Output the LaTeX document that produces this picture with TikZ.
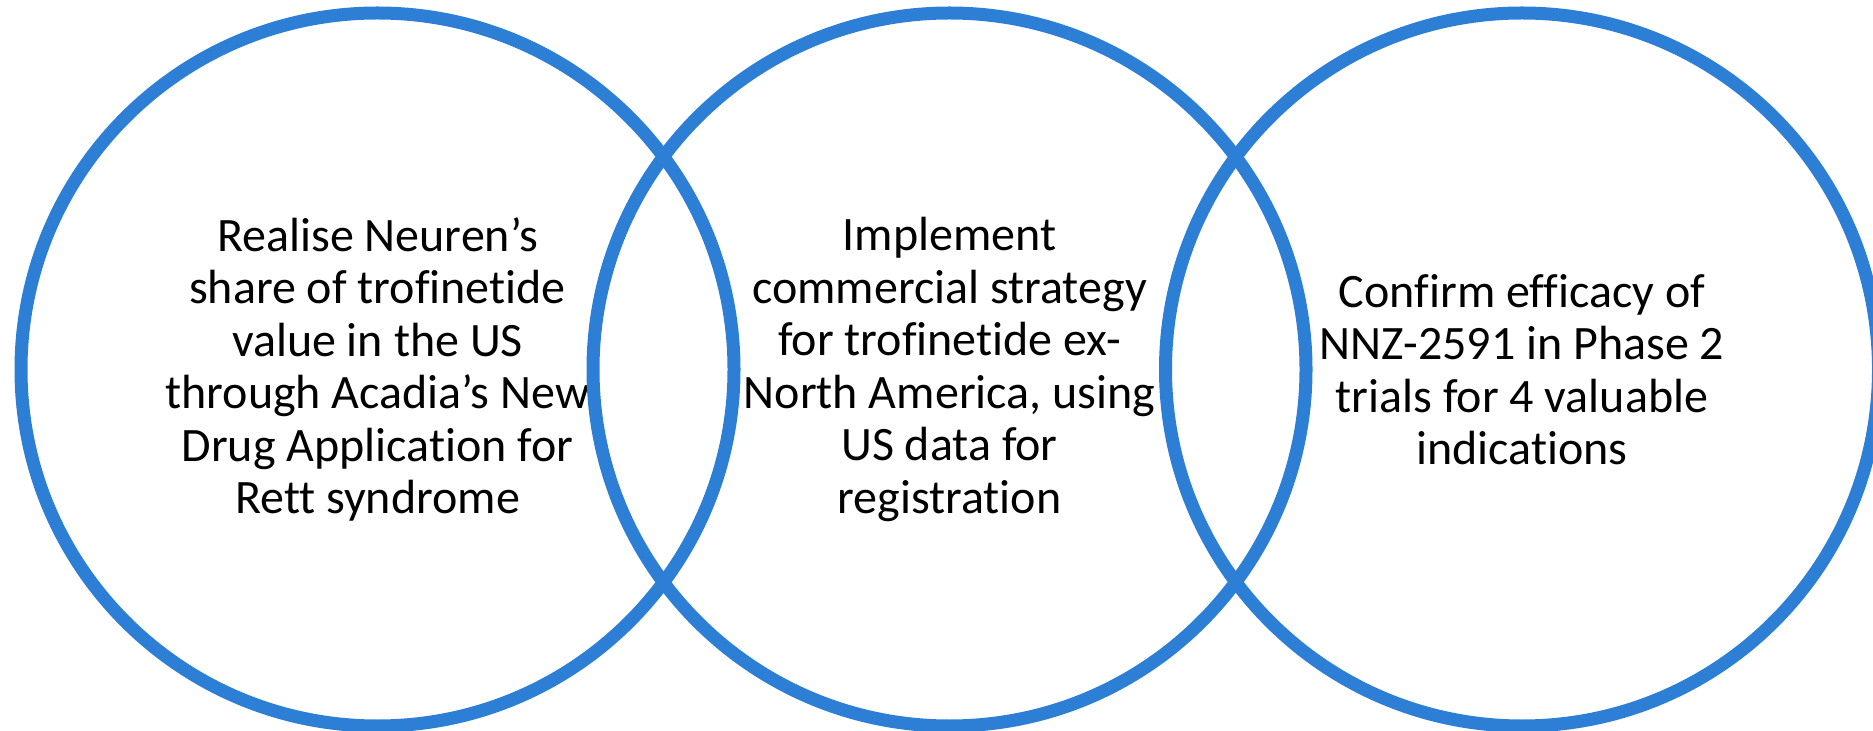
\documentclass[tikz,border=0pt]{standalone}
\usepackage{fontspec}
\setmainfont{Carlito}[Ligatures=NoCommon]
\definecolor{vennblue}{RGB}{44,127,213}
\begin{document}
\begin{tikzpicture}[x=0.5pt,y=-0.5pt,
  venn/.style={circle,draw=vennblue,line width=6.5pt,minimum size=356.5pt,inner sep=0pt,
    align=center,font=\fontsize{24pt}{26.25pt}\selectfont,text=black}]
\useasboundingbox (0,0) rectangle (1873,731);
\node[venn] (c1) at (377.5,369.5) {Realise Neuren’s\\share of trofinetide\\value in the US\\through Acadia’s New\\Drug Application for\\Rett syndrome};
\node[venn] (c2) at (949.5,369.5) {Implement\\commercial strategy\\for trofinetide ex-\\North America, using\\US data for\\registration};
\node[venn] (c3) at (1522,369.5) {Confirm efficacy of\\NNZ-2591 in Phase 2\\trials for 4 valuable\\indications};
\end{tikzpicture}
\end{document}
